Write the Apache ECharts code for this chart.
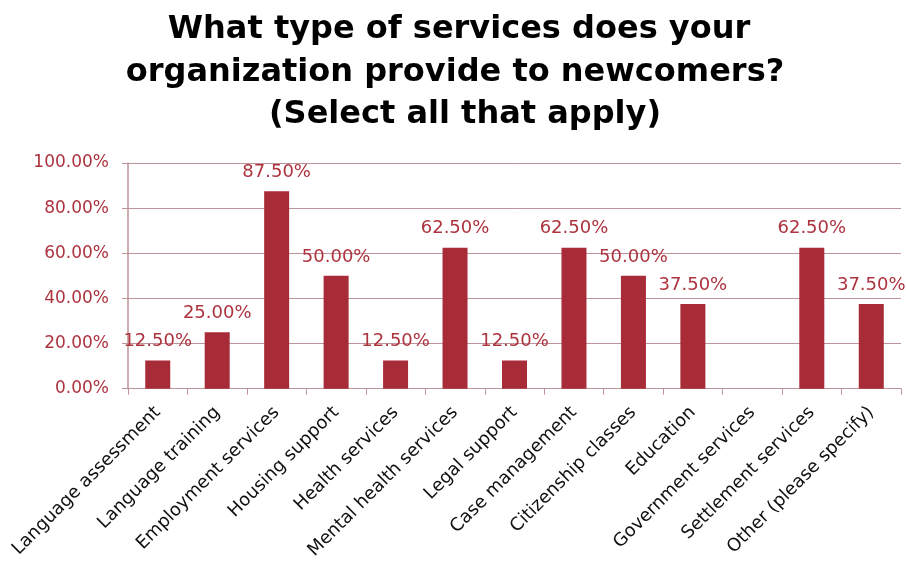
<!DOCTYPE html>
<html>
<head>
<meta charset="utf-8">
<script src="https://cdn.jsdelivr.net/npm/echarts@6/dist/echarts.min.js"></script>
<style>
  html, body { margin: 0; padding: 0; background: #ffffff; }
  #chart { width: 906px; height: 562px; }
</style>
</head>
<body>
<div id="chart"></div>
<script>
// Services offered to newcomers (share of respondents, %)
const categories = [
  'Language assessment',
  'Language training',
  'Employment services',
  'Housing support',
  'Health services',
  'Mental health services',
  'Legal support',
  'Case management',
  'Citizenship classes',
  'Education',
  'Government services',
  'Settlement services',
  'Other (please specify)'
];
const shares = [12.5, 25, 87.5, 50, 12.5, 62.5, 12.5, 62.5, 50, 37.5, 0, 62.5, 37.5];
const titleLines = [
  'What type of services does your',
  'organization provide to newcomers?',
  '(Select all that apply)'
];

const barColor = '#A82B38';
const labelColor = '#AD333F';
const gridColor = '#BC9499';
const fontFamily = '"DejaVu Sans", Verdana, sans-serif';

// each title line is centred on its own x position
const titleCenters = [459, 455, 465];
const titleTops = [14, 57, 99];

const chart = echarts.init(document.getElementById('chart'));
chart.setOption({
  backgroundColor: '#ffffff',
  animation: false,
  title: titleLines.map((line, i) => ({
    text: line,
    left: titleCenters[i],
    top: titleTops[i],
    textAlign: 'center',
    padding: 0,
    textStyle: {
      fontFamily: fontFamily,
      fontWeight: 'bold',
      fontSize: 32,
      color: '#000000'
    }
  })),
  grid: { left: 128, right: 5, top: 163, bottom: 171, containLabel: false },
  xAxis: {
    type: 'category',
    data: categories,
    axisLine: { show: true, lineStyle: { color: gridColor, width: 1 } },
    axisTick: { show: true, length: 6, alignWithLabel: false, lineStyle: { color: gridColor } },
    axisLabel: {
      interval: 0,
      rotate: 45,
      margin: 21,
      color: '#111111',
      fontFamily: fontFamily,
      fontSize: 18
    }
  },
  yAxis: {
    type: 'value',
    min: 0,
    max: 100,
    interval: 20,
    axisLine: { show: true, lineStyle: { color: gridColor, width: 1.5 } },
    axisTick: { show: true, length: 6, lineStyle: { color: gridColor } },
    splitLine: { show: true, lineStyle: { color: gridColor, width: 1 } },
    axisLabel: {
      margin: 19,
      color: labelColor,
      fontFamily: fontFamily,
      fontSize: 17,
      formatter: v => v.toFixed(2) + '%'
    }
  },
  series: [{
    type: 'bar',
    data: shares,
    barWidth: 25,
    itemStyle: { color: barColor },
    label: {
      show: true,
      position: 'top',
      distance: 10,
      color: labelColor,
      fontFamily: fontFamily,
      fontSize: 18,
      formatter: p => (p.value > 0 ? p.value.toFixed(2) + '%' : '')
    }
  }]
});
</script>
</body>
</html>
